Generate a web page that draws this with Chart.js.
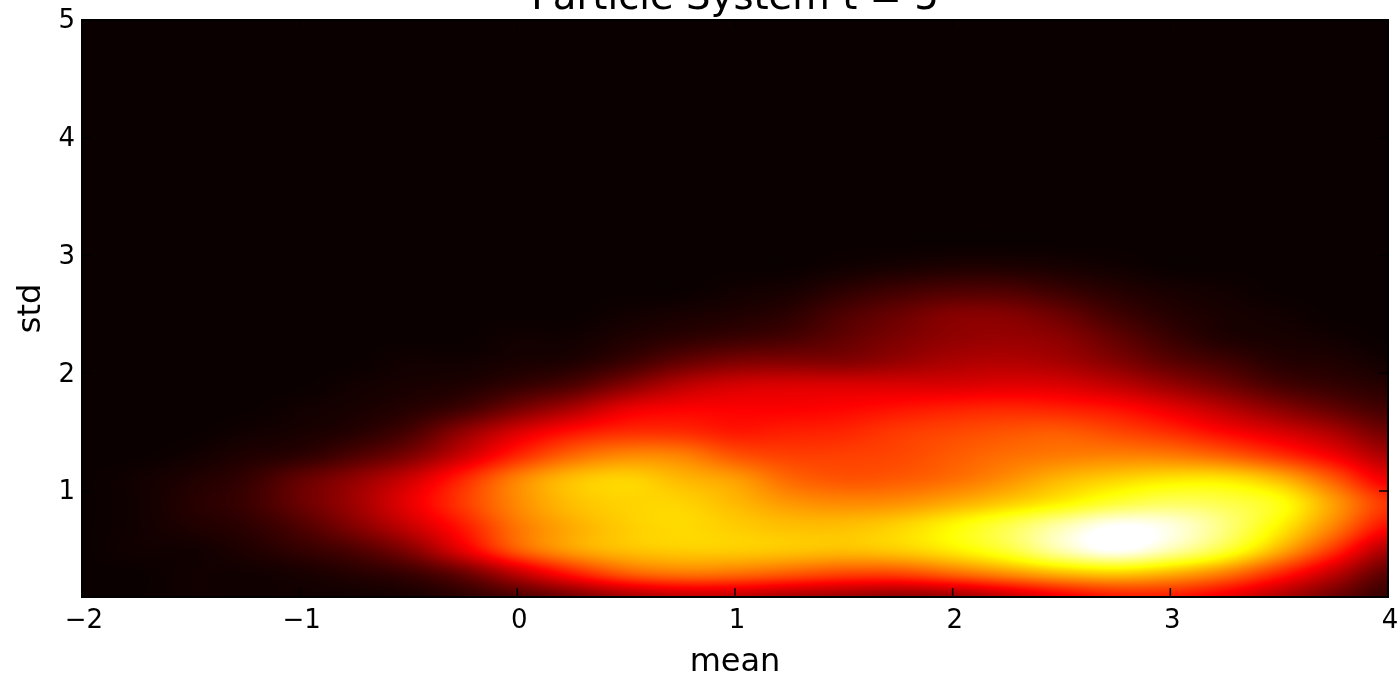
<!DOCTYPE html>
<html>
<head>
<meta charset="utf-8">
<title>Particle System t = 5</title>
<style>
    html, body { margin: 0; padding: 0; background: #fff; overflow: hidden; }
    canvas { display: block; }
</style>
<script src="https://cdn.jsdelivr.net/npm/chart.js@4/dist/chart.umd.min.js"></script>
</head>
<body>
<canvas id="chart" width="1399" height="677"></canvas>
<script>
// Daten
const titleText = 'Particle System t = 5';
const xLabel = 'mean';
const yLabel = 'std';
const xTicks = [-2, -1, 0, 1, 2, 3, 4];
const yTicks = [1, 2, 3, 4, 5];

const meanValues = [-2, -1.75, -1.5, -1.25, -1, -0.75, -0.5, -0.25, 0, 0.25, 0.5, 0.75, 1, 1.25, 1.5, 1.75, 2, 2.25, 2.5, 2.75, 3, 3.25, 3.5, 3.75, 4];
const stdValues = [0.1, 0.3, 0.5, 0.7, 0.9, 1.1, 1.3, 1.5, 1.7, 1.9, 2.1, 2.3, 2.5, 2.7, 2.9, 3.1, 3.3, 3.5, 3.7, 3.9, 4.1, 4.3, 4.5, 4.7, 4.9];

const density01 = [.00,.00,.01,.01,.01,.01,.02,.05,.10,.16,.23,.27,.27,.24,.22,.20,.22,.28,.35,.40,.40,.34,.25,.15,.06];
const density03 = [.00,.00,.01,.01,.02,.04,.07,.14,.27,.40,.50,.54,.53,.50,.47,.47,.52,.58,.64,.67,.63,.55,.42,.27,.12];
const density05 = [.00,.01,.01,.03,.06,.10,.18,.33,.50,.60,.65,.67,.67,.66,.65,.67,.72,.80,.92,1.0,.92,.80,.63,.44,.24];
const density07 = [.00,.01,.03,.05,.10,.18,.28,.40,.54,.62,.67,.69,.67,.65,.65,.68,.74,.82,.92,1.0,.97,.87,.73,.56,.38];
const density09 = [.00,.01,.04,.07,.14,.22,.33,.45,.57,.65,.68,.68,.64,.59,.57,.58,.62,.67,.73,.80,.84,.82,.76,.60,.44];
const density11 = [.00,.01,.03,.06,.13,.20,.29,.42,.56,.65,.68,.64,.60,.52,.49,.50,.53,.58,.64,.68,.71,.71,.64,.50,.34];
const density13 = [.00,.00,.01,.03,.05,.10,.17,.29,.42,.52,.57,.56,.49,.46,.46,.47,.50,.53,.55,.56,.55,.51,.44,.35,.24];
const density15 = [.00,.00,.00,.01,.02,.04,.09,.20,.31,.39,.43,.43,.40,.41,.42,.45,.47,.49,.50,.47,.43,.37,.31,.24,.15];
const density17 = [.00,.00,.00,.00,.01,.02,.04,.08,.16,.24,.33,.36,.36,.36,.37,.39,.41,.42,.41,.385,.33,.26,.19,.13,.08];
const density19 = [.00,.00,.00,.00,.00,.01,.02,.03,.06,.10,.18,.26,.30,.31,.31,.31,.31,.32,.31,.27,.21,.15,.09,.06,.04];
const density21 = [.00,.00,.00,.00,.00,.00,.01,.01,.02,.03,.07,.13,.17,.18,.18,.21,.24,.25,.23,.18,.12,.08,.04,.03,.01];
const density23 = [.00,.00,.00,.00,.00,.00,.00,.00,.01,.01,.03,.05,.07,.09,.13,.17,.20,.21,.19,.13,.07,.03,.02,.01,.00];
const density25 = [.00,.00,.00,.00,.00,.00,.00,.00,.00,.00,.01,.02,.03,.05,.10,.14,.18,.18,.14,.08,.04,.02,.01,.00,.00];
const density27 = [.00,.00,.00,.00,.00,.00,.00,.00,.00,.00,.00,.00,.01,.02,.05,.08,.10,.10,.07,.04,.02,.01,.00,.00,.00];
const density29 = [.00,.00,.00,.00,.00,.00,.00,.00,.00,.00,.00,.00,.00,.00,.01,.02,.03,.03,.02,.01,.00,.00,.00,.00,.00];
const densityEmpty = [.00,.00,.00,.00,.00,.00,.00,.00,.00,.00,.00,.00,.00,.00,.00,.00,.00,.00,.00,.00,.00,.00,.00,.00,.00];

const densityRows = [
    density01, density03, density05, density07, density09, density11, density13, density15,
    density17, density19, density21, density23, density25, density27, density29,
    densityEmpty, densityEmpty, densityEmpty, densityEmpty, densityEmpty,
    densityEmpty, densityEmpty, densityEmpty, densityEmpty, densityEmpty,
];

const cells = [];
stdValues.forEach((s, r) => meanValues.forEach((m, c) => cells.push({ x: m, y: s, v: densityRows[r][c] })));

// Farbskala "hot"
function hotColor(v) {
    const clamp = t => Math.max(0, Math.min(1, t));
    return [
        255 * clamp(0.0416 + v * 0.9584 / 0.365),
        255 * clamp((v - 0.365) / 0.381),
        255 * clamp((v - 0.746) / 0.254),
    ];
}

function cubic(a, b, c, d, t) {
    return b + 0.5 * t * (c - a + t * (2 * a - 5 * b + 4 * c - d + t * (3 * (b - c) + d - a)));
}

function findCell(list, value) {
    const step = list[1] - list[0];
    const pos = Math.max(0, Math.min(list.length - 1.001, (value - list[0]) / step));
    const i = Math.floor(pos);
    return [i, pos - i];
}

function densityAt(mean, std) {
    const [c, tx] = findCell(meanValues, mean);
    const [r, ty] = findCell(stdValues, std);
    const rowVals = [];
    for (let k = -1; k <= 2; k++) {
        const row = densityRows[Math.max(0, Math.min(densityRows.length - 1, r + k))];
        const at = i => row[Math.max(0, Math.min(row.length - 1, i))];
        rowVals.push(cubic(at(c - 1), at(c), at(c + 1), at(c + 2), tx));
    }
    return cubic(rowVals[0], rowVals[1], rowVals[2], rowVals[3], ty);
}

// Heatmap wird ueber die Skalen des Charts gezeichnet
const heatmapPlugin = {
    id: 'heatmap',
    beforeDatasetsDraw(chart) {
        const { ctx, chartArea: area, scales } = chart;
        const left = Math.round(area.left), top = Math.round(area.top);
        const w = Math.round(area.right) - left, h = Math.round(area.bottom) - top;
        const img = ctx.createImageData(w, h);
        for (let py = 0; py < h; py++) {
            const std = scales.y.getValueForPixel(top + py + 0.5);
            for (let px = 0; px < w; px++) {
                const mean = scales.x.getValueForPixel(left + px + 0.5);
                const rgb = hotColor(densityAt(mean, std));
                const o = (py * w + px) * 4;
                img.data[o] = rgb[0];
                img.data[o + 1] = rgb[1];
                img.data[o + 2] = rgb[2];
                img.data[o + 3] = 255;
            }
        }
        ctx.putImageData(img, left, top);
    },
    afterDraw(chart) {
        const { ctx, chartArea: area, scales } = chart;
        ctx.save();
        ctx.strokeStyle = '#000';
        ctx.lineWidth = 1.5;
        ctx.beginPath();
        xTicks.forEach(t => {
            const x = scales.x.getPixelForValue(t);
            ctx.moveTo(x, area.bottom);
            ctx.lineTo(x, area.bottom - 9);
            ctx.moveTo(x, area.top);
            ctx.lineTo(x, area.top + 9);
        });
        yTicks.forEach(t => {
            const y = scales.y.getPixelForValue(t);
            ctx.moveTo(area.left, y);
            ctx.lineTo(area.left + 9, y);
            ctx.moveTo(area.right, y);
            ctx.lineTo(area.right - 9, y);
        });
        ctx.stroke();
        ctx.lineWidth = 2;
        ctx.strokeRect(area.left, area.top, area.right - area.left, area.bottom - area.top);
        ctx.restore();
    },
};

const fontFamily = '"DejaVu Sans", sans-serif';
const minusLabel = v => String(v).replace('-', '\u2212');

new Chart(document.getElementById('chart'), {
    type: 'scatter',
    data: {
        datasets: [{ label: 'density', data: cells, pointRadius: 0, pointHoverRadius: 0 }],
    },
    options: {
        responsive: false,
        devicePixelRatio: 1,
        animation: false,
        layout: { padding: { top: 0, right: 11, bottom: 0, left: 0 } },
        plugins: {
            legend: { display: false },
            tooltip: { enabled: false },
            title: {
                display: true,
                fullSize: false,
                text: titleText,
                color: '#000',
                font: { family: fontFamily, size: 38.6, weight: 'normal', lineHeight: 1.2 },
                padding: { top: -24.32, bottom: -2 },
            },
        },
        scales: {
            x: {
                type: 'linear',
                min: -2,
                max: 4,
                grid: { display: false, drawTicks: false },
                border: { display: false },
                afterBuildTicks: s => { s.ticks = xTicks.map(value => ({ value })); },
                afterFit: s => { s.height = 80; s.paddingLeft = 0; s.paddingRight = 0; },
                ticks: {
                    color: '#000',
                    padding: 9,
                    maxRotation: 0,
                    autoSkip: false,
                    labelOffset: 2,
                    font: { family: fontFamily, size: 26 },
                    callback: minusLabel,
                },
                title: {
                    display: true,
                    text: xLabel,
                    color: '#000',
                    font: { family: fontFamily, size: 32 },
                    padding: { top: -5, bottom: -5 },
                },
            },
            y: {
                type: 'linear',
                min: 0.1,
                max: 5,
                grid: { display: false, drawTicks: false },
                border: { display: false },
                afterBuildTicks: s => { s.ticks = yTicks.map(value => ({ value })); },
                afterFit: s => { s.width = 82; s.paddingTop = 0; s.paddingBottom = 0; },
                ticks: {
                    color: '#000',
                    padding: 7,
                    autoSkip: false,
                    labelOffset: 1.5,
                    font: { family: fontFamily, size: 26 },
                    callback: minusLabel,
                },
                title: {
                    display: true,
                    text: yLabel,
                    color: '#000',
                    font: { family: fontFamily, size: 32 },
                    padding: { top: 12, bottom: 12 },
                },
            },
        },
    },
    plugins: [heatmapPlugin],
});
</script>
</body>
</html>
